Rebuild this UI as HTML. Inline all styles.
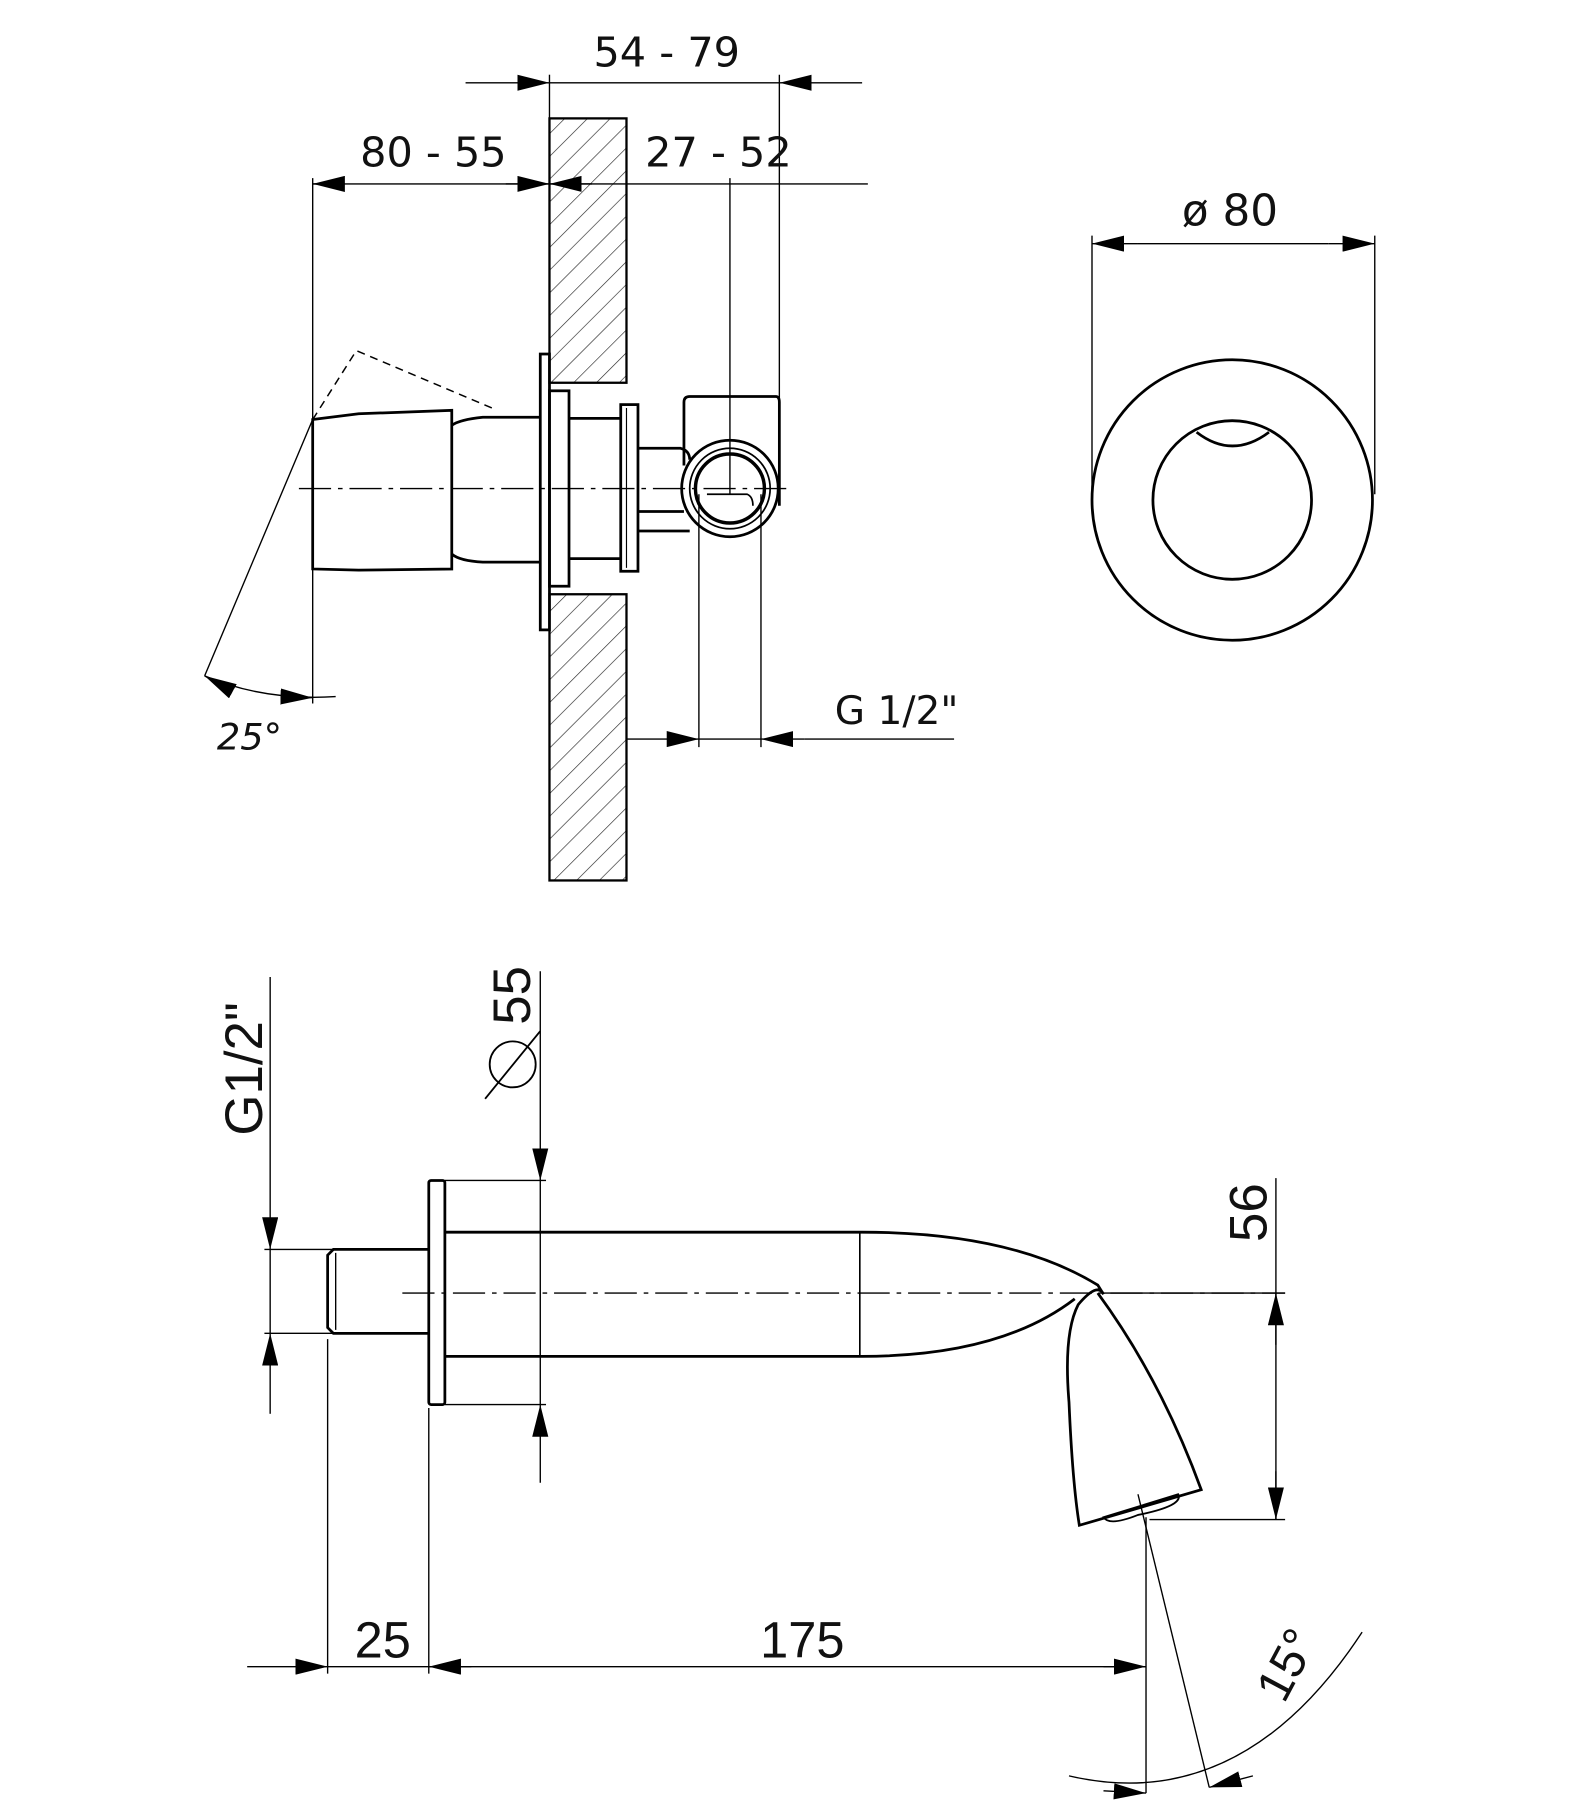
<!DOCTYPE html>
<html><head><style>
html,body{margin:0;padding:0;background:#fff;}
svg{display:block;}
text{font-family:"DejaVu Sans","Liberation Sans",sans-serif;fill:#111;}
.b{font-family:"Liberation Sans",sans-serif;}
</style></head><body>
<svg width="1584" height="1800" viewBox="0 0 1378 1566" xmlns="http://www.w3.org/2000/svg">
<defs>
<pattern id="h" width="14" height="14" patternUnits="userSpaceOnUse" patternTransform="rotate(45)">
<line x1="0" y1="0" x2="0" y2="14" stroke="#222" stroke-width="1.1"/>
</pattern>
<marker id="a" viewBox="0 0 20 10" refX="20" refY="5" markerWidth="28" markerHeight="14" markerUnits="userSpaceOnUse" orient="auto-start-reverse"><path d="M0,0 L20,5 L0,10 z" fill="#000"/></marker>
</defs>
<g fill="none" stroke="#000">
<rect x="478" y="103" width="67" height="230" fill="url(#h)" stroke-width="2"/>
<rect x="478" y="517" width="67" height="249" fill="url(#h)" stroke-width="2"/>
<g stroke-width="1.2">
<line x1="405" y1="72" x2="478" y2="72" marker-end="url(#a)"/>
<line x1="478" y1="72" x2="678" y2="72"/>
<line x1="750" y1="72" x2="678" y2="72" marker-end="url(#a)"/>
<line x1="478" y1="65" x2="478" y2="103"/>
<line x1="678" y1="65" x2="678" y2="350"/>
<line x1="272" y1="160" x2="755" y2="160"/>
<line x1="300" y1="160" x2="272" y2="160" marker-end="url(#a)"/>
<line x1="440" y1="160" x2="478" y2="160" marker-end="url(#a)"/>
<line x1="515" y1="160" x2="478" y2="160" marker-end="url(#a)"/>
<line x1="272" y1="155" x2="272" y2="612"/>
<line x1="635" y1="155" x2="635" y2="430"/>
<line x1="608" y1="430" x2="608" y2="650"/>
<line x1="662" y1="430" x2="662" y2="650"/>
<line x1="545" y1="643" x2="608" y2="643" marker-end="url(#a)"/>
<line x1="608" y1="643" x2="662" y2="643"/>
<line x1="700" y1="643" x2="662" y2="643" marker-end="url(#a)"/>
<line x1="700" y1="643" x2="830" y2="643"/>
<line x1="272" y1="365" x2="178" y2="588"/>
<path d="M178,588 Q230,610 292,606"/>
<line x1="200" y1="600" x2="178" y2="588" marker-end="url(#a)"/>
<line x1="245" y1="606" x2="272" y2="607" marker-end="url(#a)"/>
<line x1="260" y1="425" x2="690" y2="425" stroke-dasharray="28,6,4,6"/>
</g>
<g stroke-width="2.4">
<path d="M272,365 L312,360 L393,357 L393,495 L312,496 L272,495 Z"/>
<path d="M393,370 Q400,365 420,363 L470,363 M393,482 Q400,488 420,489 L470,489"/>
<rect x="470" y="308" width="8" height="240"/>
<rect x="478" y="340" width="17" height="170"/>
<path d="M495,364 L540,364 M495,486 L540,486"/>
<rect x="540" y="352" width="15" height="145"/>
<line x1="545" y1="355" x2="545" y2="494" stroke-width="1"/>
<path d="M555,445 L595,445 M555,462 L600,462 M555,390 L592,390 Q600,392 600,400 M595,405 L595,350 Q595,345 600,345 L675,345 Q678,345 678,350 L678,440"/>
<circle cx="635" cy="425" r="42"/>
<circle cx="635" cy="425" r="35" stroke-width="1.5"/>
<circle cx="635" cy="425" r="30" stroke-width="3"/>
<path d="M615,430 L650,430 Q655,432 655,440" stroke-width="1.5"/>
</g>
<path d="M272,365 L310,305 L428,355" stroke-width="1.3" stroke-dasharray="7,5"/>
<g stroke-width="2.4">
<circle cx="1072" cy="435" r="122"/>
<circle cx="1072" cy="435" r="69"/>
<path d="M1041,376 Q1072,400 1104,376"/>
</g>
<g stroke-width="1.2">
<line x1="950" y1="205" x2="950" y2="430"/>
<line x1="1196" y1="205" x2="1196" y2="430"/>
<line x1="990" y1="212" x2="950" y2="212" marker-end="url(#a)"/>
<line x1="990" y1="212" x2="1156" y2="212"/>
<line x1="1156" y1="212" x2="1196" y2="212" marker-end="url(#a)"/>
</g>
<g stroke-width="2.4">
<rect x="373" y="1027" width="14" height="195" rx="2"/>
<path d="M373,1087 L290,1087 L285,1092 L285,1155 L290,1160 L373,1160"/>
<line x1="292" y1="1090" x2="292" y2="1157" stroke-width="1.2"/>
<path d="M387,1072 L750,1072 Q880,1072 955,1118 L960,1126 Q955,1115 938,1135 Q925,1160 930,1220 Q933,1290 939,1327 L1045,1296 Q1010,1200 955,1125"/>
<path d="M387,1180 L750,1180 Q870,1180 935,1130"/>
<line x1="748" y1="1072" x2="748" y2="1180" stroke-width="1.4"/>
<path d="M960,1320 L1025,1300 Q1030,1310 990,1318 Q965,1328 960,1320 Z" stroke-width="1.6"/>
</g>
<g stroke-width="1.2">
<line x1="350" y1="1125" x2="1118" y2="1125" stroke-dasharray="28,6,4,6"/>
<line x1="960" y1="1125" x2="1118" y2="1125"/>
<line x1="470" y1="845" x2="470" y2="1027" marker-end="url(#a)"/>
<line x1="470" y1="1027" x2="470" y2="1222"/>
<line x1="470" y1="1290" x2="470" y2="1222" marker-end="url(#a)"/>
<line x1="387" y1="1027" x2="475" y2="1027"/>
<line x1="387" y1="1222" x2="475" y2="1222"/>
<line x1="235" y1="850" x2="235" y2="1087" marker-end="url(#a)"/>
<line x1="235" y1="1087" x2="235" y2="1160"/>
<line x1="235" y1="1230" x2="235" y2="1160" marker-end="url(#a)"/>
<line x1="230" y1="1087" x2="290" y2="1087"/>
<line x1="230" y1="1160" x2="290" y2="1160"/>
<line x1="1110" y1="1025" x2="1110" y2="1322"/>
<line x1="1110" y1="1170" x2="1110" y2="1125" marker-end="url(#a)"/>
<line x1="1110" y1="1280" x2="1110" y2="1322" marker-end="url(#a)"/>
<line x1="1000" y1="1322" x2="1118" y2="1322"/>
<line x1="285" y1="1165" x2="285" y2="1456"/>
<line x1="373" y1="1225" x2="373" y2="1456"/>
<line x1="997" y1="1320" x2="997" y2="1560"/>
<line x1="215" y1="1450" x2="285" y2="1450" marker-end="url(#a)"/>
<line x1="285" y1="1450" x2="997" y2="1450"/>
<line x1="410" y1="1450" x2="373" y2="1450" marker-end="url(#a)"/>
<line x1="960" y1="1450" x2="997" y2="1450" marker-end="url(#a)"/>
<line x1="990" y1="1300" x2="1052" y2="1555"/>
<path d="M930,1545 Q1080,1580 1185,1420"/>
<line x1="960" y1="1558" x2="997" y2="1560" marker-end="url(#a)"/>
<line x1="1090" y1="1545" x2="1052" y2="1555" marker-end="url(#a)"/>
</g>
<g stroke-width="1.6">
<circle cx="446" cy="926" r="20"/>
<line x1="422" y1="956" x2="470" y2="897"/>
</g>
</g>
<text x="580" y="58" font-size="36" text-anchor="middle">54 - 79</text>
<text x="377" y="145" font-size="36" text-anchor="middle">80 - 55</text>
<text x="625" y="145" font-size="36" text-anchor="middle">27 - 52</text>
<text x="1070" y="196" font-size="38" text-anchor="middle">ø 80</text>
<text x="780" y="630" font-size="34" text-anchor="middle">G 1/2"</text>
<text x="217" y="652" font-size="32" font-style="italic" text-anchor="middle">25°</text>
<text class="b" x="0" y="0" font-size="46" text-anchor="middle" transform="translate(228,930) rotate(-90)">G1/2"</text>
<text class="b" x="0" y="0" font-size="46" text-anchor="middle" transform="translate(461,866) rotate(-90)">55</text>
<text class="b" x="0" y="0" font-size="46" text-anchor="middle" transform="translate(1102,1055) rotate(-90)">56</text>
<text class="b" x="333" y="1442" font-size="44" text-anchor="middle">25</text>
<text class="b" x="698" y="1442" font-size="44" text-anchor="middle">175</text>
<text class="b" x="0" y="0" font-size="42" text-anchor="middle" transform="translate(1132,1455) rotate(-62)">15°</text>
</svg>
</body></html>
